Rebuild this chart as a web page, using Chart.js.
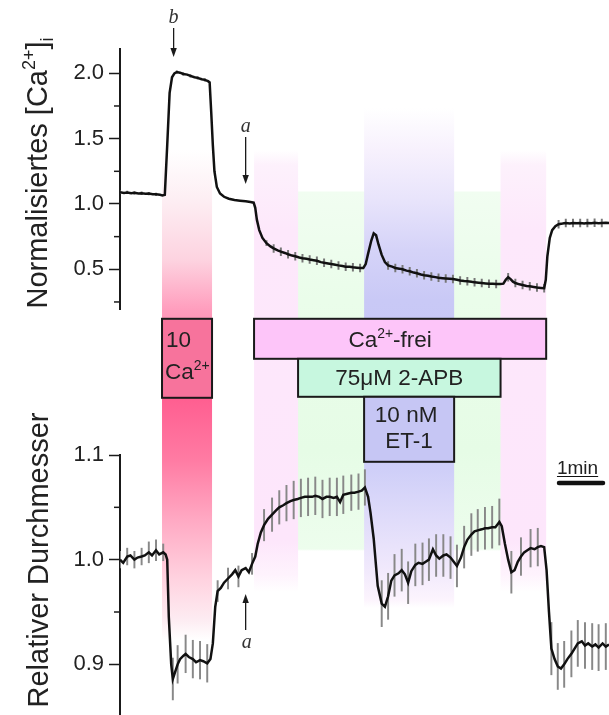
<!DOCTYPE html>
<html lang="de">
<head>
<meta charset="UTF-8">
<title>Ca2+ und Gefäßdurchmesser</title>
<style>
  html, body { margin: 0; padding: 0; background: #fff; }
  #trace { display: block; }
</style>
</head>
<body>
<canvas id="trace" width="609" height="715"></canvas>

<script src="https://cdn.jsdelivr.net/npm/chart.js@4.4.0/dist/chart.umd.min.js"></script>
<script>
// time in seconds, [Ca2+]i normalised, error (half bar)
var caTrace = [
  [0,1.09,0.01],[5,1.085,0],[9,1.088,0.01],[14,1.083,0],[18,1.085,0.01],[23,1.08,0],[27,1.082,0.01],
  [32,1.078,0],[36,1.08,0.01],[41,1.075,0],[45,1.074,0.01],[50,1.07,0],[53,1.066,0],[56,1.07,0],
  [59,1.45,0],[62,1.85,0],[65,1.97,0],[68,2.0,0],[71,2.01,0.01],[75,2.005,0],[79,1.995,0.01],
  [84,1.99,0],[88,1.98,0.01],[93,1.97,0],[97,1.965,0.01],[102,1.955,0],[106,1.95,0.01],[110,1.94,0],
  [112,1.93,0],[114,1.7,0],[116,1.45,0],[118,1.25,0],[121,1.13,0],[125,1.08,0],[130,1.055,0],
  [136,1.04,0],[143,1.03,0],[150,1.025,0],[157,1.02,0],[163,1.015,0],[167,1.01,0],[169,0.97,0],
  [171,0.88,0],[174,0.8,0],[178,0.74,0],[183,0.7,0.02],[188,0.675,0],[192,0.66,0.03],[197,0.645,0],
  [201,0.635,0.03],[206,0.625,0],[210,0.615,0.03],[215,0.605,0],[219,0.6,0.03],[224,0.59,0],
  [228,0.585,0.03],[233,0.58,0],[237,0.575,0.03],[242,0.57,0],[246,0.565,0.03],[251,0.555,0],
  [255,0.55,0.03],[260,0.545,0],[264,0.54,0.03],[269,0.535,0],[273,0.53,0.03],[278,0.525,0],
  [282,0.52,0.03],[287,0.52,0],[291,0.515,0.03],[296,0.512,0],[300,0.51,0.03],[304,0.51,0],
  [307,0.54,0],[310,0.62,0],[314,0.72,0],[317,0.775,0],[320,0.76,0],[323,0.69,0],[327,0.61,0],
  [331,0.555,0],[335,0.53,0.03],[340,0.52,0],[344,0.51,0.03],[349,0.505,0],[353,0.5,0.03],
  [358,0.49,0],[362,0.485,0.03],[367,0.475,0],[371,0.47,0.03],[376,0.46,0],[380,0.455,0.03],
  [385,0.45,0],[389,0.445,0.03],[394,0.44,0],[398,0.435,0.03],[403,0.432,0],[407,0.43,0.03],
  [412,0.428,0],[416,0.425,0.03],[421,0.42,0],[425,0.415,0.03],[430,0.41,0],[434,0.408,0.03],
  [439,0.405,0],[443,0.4,0.03],[448,0.397,0],[452,0.395,0.03],[457,0.392,0],[461,0.39,0.03],
  [466,0.39,0],[470,0.388,0.03],[475,0.387,0],[479,0.39,0],[482,0.42,0],[485,0.44,0.03],
  [488,0.425,0],[491,0.405,0],[494,0.395,0.03],[499,0.385,0],[503,0.38,0.03],[508,0.372,0],
  [512,0.37,0.03],[517,0.365,0],[521,0.36,0.03],[526,0.357,0],[530,0.355,0.03],[532,0.42,0],
  [534,0.6,0],[537,0.74,0],[540,0.8,0],[544,0.83,0],[548,0.845,0.03],[553,0.85,0],[557,0.855,0.03],
  [562,0.85,0],[566,0.855,0.03],[571,0.852,0],[575,0.855,0.03],[580,0.85,0],[584,0.855,0.03],
  [589,0.852,0],[593,0.856,0.03],[598,0.853,0],[602,0.855,0.03],[607,0.856,0],[611,0.855,0]
];

// time in seconds, relative diameter, error (half bar)
var diaTrace = [
  [0,1.0,0.008],[4,0.997,0],[9,1.003,0.008],[13,1.004,0],[18,1.0,0.008],[22,1.002,0],[27,1.003,0.008],
  [31,1.004,0],[36,1.007,0.01],[40,1.004,0],[45,1.009,0.01],[49,1.005,0],[54,1.007,0.008],[57,1.005,0],
  [59,1.0,0],[61,0.945,0],[64,0.9,0],[66,0.886,0.02],[69,0.893,0],[72,0.9,0.018],[75,0.905,0],
  [79,0.908,0],[82,0.91,0.018],[86,0.907,0],[91,0.905,0.018],[95,0.902,0],[100,0.904,0.018],
  [104,0.903,0],[109,0.901,0.018],[113,0.905,0],[116,0.92,0],[119,0.955,0],[122,0.97,0.01],
  [126,0.973,0],[130,0.978,0],[135,0.982,0.01],[140,0.986,0],[144,0.99,0],[148,0.984,0.01],
  [152,0.99,0],[157,0.992,0],[161,0.988,0],[165,0.996,0.01],[169,1.003,0],[172,1.015,0],
  [176,1.026,0],[180,1.033,0.015],[185,1.039,0],[190,1.043,0.016],[195,1.047,0],[199,1.05,0.016],
  [204,1.052,0],[208,1.054,0.017],[213,1.056,0],[217,1.057,0.018],[222,1.058,0],[226,1.059,0.018],
  [231,1.06,0],[235,1.06,0.018],[240,1.06,0],[244,1.061,0.018],[249,1.06,0],[253,1.058,0.018],
  [258,1.06,0],[262,1.06,0.018],[267,1.059,0],[271,1.06,0.018],[275,1.055,0],[279,1.062,0.018],
  [284,1.063,0],[289,1.064,0.017],[293,1.064,0],[298,1.065,0.017],[302,1.066,0],[306,1.069,0.017],
  [310,1.06,0],[313,1.045,0],[317,1.02,0],[322,0.975,0],[327,0.958,0.022],[331,0.955,0],
  [335,0.965,0.022],[339,0.98,0],[343,0.985,0.02],[348,0.987,0],[352,0.99,0.02],[356,0.986,0],
  [360,0.978,0.02],[364,0.989,0],[369,0.995,0.02],[373,0.997,0],[378,0.996,0.02],[382,0.998,0],
  [386,1.0,0.02],[391,1.01,0],[395,1.004,0.02],[399,1.001,0],[404,1.004,0.02],[408,1.005,0],
  [413,1.002,0.02],[417,0.998,0],[421,0.994,0.02],[426,1.002,0],[430,1.012,0.02],[434,1.019,0],
  [439,1.024,0.02],[443,1.027,0],[447,1.028,0.02],[452,1.029,0],[456,1.03,0.02],[460,1.03,0],
  [465,1.031,0.02],[469,1.031,0],[474,1.036,0.022],[477,1.032,0],[481,1.015,0],[485,1.0,0],
  [489,0.988,0.02],[493,0.99,0],[497,0.998,0],[501,1.003,0.018],[505,1.007,0],[509,1.009,0],
  [513,1.011,0.018],[518,1.01,0],[522,1.012,0.018],[526,1.013,0],[530,1.012,0],[533,0.99,0],
  [536,0.95,0],[539,0.915,0.025],[543,0.905,0],[547,0.898,0.022],[551,0.896,0],[555,0.9,0.022],
  [559,0.905,0],[564,0.91,0.022],[568,0.915,0],[572,0.92,0.022],[577,0.922,0],[581,0.918,0.022],
  [585,0.92,0],[590,0.917,0.022],[594,0.919,0],[598,0.916,0.022],[603,0.92,0],[607,0.917,0.022],
  [611,0.919,0]
];

// treatment periods (s)
var caPeriod = [52.5, 115];
var freePeriod = [167.5, 532.5];
var apbPeriod = [222.5, 475.5];
var et1Period = [305, 417.5];

// arrow marks (s) and the 1 min scale bar
var markB = 67;
var markA = 157;
var scaleBar = [546, 606];

// axis ticks
var caTicks = [0.5, 1.0, 1.5, 2.0];
var caMinor = [0.25, 0.75, 1.25, 1.75];
var diaTicks = [0.9, 1.0, 1.1];
var diaMinor = [0.95, 1.05];

var SANS = '"Liberation Sans", Arial, sans-serif';
var SERIF = '"Liberation Serif", "Times New Roman", serif';
var INK = '#1a1a1a';

function lineData(rows) {
  return rows.map(function (r) { return { x: r[0], y: r[1] }; });
}
function errData(rows) {
  return rows.filter(function (r) { return r[2] > 0; })
    .map(function (r) { return { x: r[0], y: [r[1] - r[2], r[1] + r[2]] }; });
}

// text with super/subscripts: parts = [[text, kind], ...]
function drawParts(ctx, parts, x, y, size, align) {
  var widths = parts.map(function (p) {
    ctx.font = (p[1] ? size * 0.62 : size) + 'px ' + SANS;
    return ctx.measureText(p[0]).width;
  });
  var total = widths.reduce(function (a, b) { return a + b; }, 0);
  var cx = align === 'center' ? x - total / 2 : x;
  ctx.textAlign = 'left';
  ctx.textBaseline = 'alphabetic';
  parts.forEach(function (p, i) {
    ctx.font = (p[1] ? size * 0.62 : size) + 'px ' + SANS;
    var dy = p[1] === 'sup' ? -size * 0.4 : p[1] === 'sub' ? size * 0.22 : 0;
    ctx.fillText(p[0], cx, y + dy);
    cx += widths[i];
  });
}

function drawArrow(ctx, x, yFrom, yTo) {
  var dir = yTo > yFrom ? 1 : -1;
  ctx.strokeStyle = INK;
  ctx.fillStyle = INK;
  ctx.lineWidth = 1.3;
  ctx.beginPath();
  ctx.moveTo(x, yFrom);
  ctx.lineTo(x, yTo - dir * 6);
  ctx.stroke();
  ctx.beginPath();
  ctx.moveTo(x, yTo);
  ctx.lineTo(x - 3.2, yTo - dir * 9);
  ctx.lineTo(x + 3.2, yTo - dir * 9);
  ctx.closePath();
  ctx.fill();
}

// shaded treatment columns, gradient stops given in pixel rows
var bandStyles = [
  { period: caPeriod, stops: [[150, '#ffffff'], [200, '#fdeef3'], [260, '#fdd3e0'], [310, '#ff9dbd'],
      [400, '#ff5f91'], [460, '#ff7ba3'], [520, '#ffa9c3'], [580, '#ffd3e0'], [620, '#fdecf2'], [640, '#ffffff']] },
  { period: freePeriod, stops: [[150, '#ffffff'], [165, '#fdf1fc'], [230, '#fde8fb'], [540, '#fde6fb'],
      [575, '#fef3fd'], [592, '#ffffff']] },
  { period: apbPeriod, stops: [[150, '#ffffff'], [191, '#ffffff'], [192, '#f1fdf1'], [300, '#eafdea'],
      [450, '#e6fce6'], [549, '#edfded'], [551, '#ffffff'], [592, '#ffffff']] },
  { period: et1Period, stops: [[108, '#ffffff'], [150, '#f7f1fd'], [200, '#e8e4fb'], [250, '#d5d3f8'],
      [300, '#c9c9f6'], [400, '#c5c5f5'], [470, '#cfcff8'], [520, '#e0dcfa'], [570, '#f1e9fc'],
      [600, '#fcf4fd'], [608, '#ffffff']] }
];

// labelled boxes; rows are offsets (px) below the top panel's axis end
var boxStyles = [
  { period: caPeriod, rows: [9, 88], fill: '#f7739c',
    lines: [{ parts: [['10', '']], dx: 4, y: 347, align: 'left' },
            { parts: [['Ca', ''], ['2+', 'sup']], dx: 3, y: 379, align: 'left' }] },
  { period: freePeriod, rows: [9, 49], fill: '#fdc5f9',
    lines: [{ parts: [['Ca', ''], ['2+', 'sup'], ['-frei', '']], dx: -10, y: 347, align: 'center' }] },
  { period: apbPeriod, rows: [49, 87], fill: '#c7f7df',
    lines: [{ parts: [['75\u03bcM 2-APB', '']], dx: 0, y: 385, align: 'center' }] },
  { period: et1Period, rows: [87, 152], fill: '#c6c6f4',
    lines: [{ parts: [['10 nM', '']], dx: -3, y: 422, align: 'center' },
            { parts: [['ET-1', '']], dx: 0, y: 448, align: 'center' }] }
];

var decor = {
  id: 'decor',
  beforeDatasetsDraw: function (chart) {
    var ctx = chart.ctx, x = chart.scales.x;
    ctx.save();
    bandStyles.forEach(function (b) {
      var x0 = x.getPixelForValue(b.period[0]), x1 = x.getPixelForValue(b.period[1]);
      var top = b.stops[0][0], bottom = b.stops[b.stops.length - 1][0];
      var g = ctx.createLinearGradient(0, top, 0, bottom);
      b.stops.forEach(function (s) { g.addColorStop((s[0] - top) / (bottom - top), s[1]); });
      ctx.fillStyle = g;
      ctx.fillRect(x0, top, x1 - x0, bottom - top);
    });
    ctx.restore();
  },
  afterDatasetsDraw: function (chart) {
    var ctx = chart.ctx, x = chart.scales.x, gap = chart.scales.yGap;
    ctx.save();

    // treatment boxes
    boxStyles.forEach(function (b) {
      var x0 = x.getPixelForValue(b.period[0]), x1 = x.getPixelForValue(b.period[1]);
      var y0 = gap.getPixelForValue(b.rows[0]), y1 = gap.getPixelForValue(b.rows[1]);
      ctx.fillStyle = b.fill;
      ctx.fillRect(x0, y0, x1 - x0, y1 - y0);
      ctx.strokeStyle = INK;
      ctx.lineWidth = 2;
      ctx.strokeRect(x0, y0, x1 - x0, y1 - y0);
      ctx.fillStyle = '#222';
      b.lines.forEach(function (l) {
        var lx = l.align === 'left' ? x0 + l.dx : (x0 + x1) / 2 + l.dx;
        drawParts(ctx, l.parts, lx, l.y, 22.5, l.align);
      });
    });

    // minor ticks
    ctx.strokeStyle = INK;
    ctx.lineWidth = 1.5;
    [['yCa', caMinor], ['yDia', diaMinor]].forEach(function (m) {
      var s = chart.scales[m[0]];
      m[1].forEach(function (v) {
        var py = s.getPixelForValue(v);
        ctx.beginPath();
        ctx.moveTo(s.right - 6, py);
        ctx.lineTo(s.right, py);
        ctx.stroke();
      });
    });

    // axis titles
    ctx.fillStyle = '#222';
    ctx.save();
    ctx.translate(47, 173);
    ctx.rotate(-Math.PI / 2);
    drawParts(ctx, [['Normalisiertes [Ca', ''], ['2+', 'sup'], [']', ''], ['i', 'sub']], 0, 0, 29, 'center');
    ctx.restore();
    ctx.save();
    ctx.translate(48, 560);
    ctx.rotate(-Math.PI / 2);
    drawParts(ctx, [['Relativer Durchmesser', '']], 0, 0, 29, 'center');
    ctx.restore();

    // arrows b / a
    var xb = x.getPixelForValue(markB), xa = x.getPixelForValue(markA);
    drawArrow(ctx, xb, 28, 57);
    drawArrow(ctx, xa, 137, 184);
    drawArrow(ctx, xa, 630, 594);
    ctx.fillStyle = '#333';
    ctx.font = 'italic 20px ' + SERIF;
    ctx.textAlign = 'center';
    ctx.textBaseline = 'alphabetic';
    ctx.fillText('b', xb, 23);
    ctx.fillText('a', xa, 132);
    ctx.fillText('a', xa + 1, 648);

    // 1 min scale bar
    var s0 = x.getPixelForValue(scaleBar[0]), s1 = x.getPixelForValue(scaleBar[1]);
    ctx.strokeStyle = '#111';
    ctx.lineCap = 'round';
    ctx.lineWidth = 4.5;
    ctx.beginPath();
    ctx.moveTo(s0 + 2, 483);
    ctx.lineTo(s1 - 2, 483);
    ctx.stroke();
    ctx.fillStyle = '#222';
    ctx.font = '19px ' + SANS;
    ctx.textAlign = 'left';
    ctx.fillText('1min', s0, 474);
    ctx.lineCap = 'butt';
    ctx.lineWidth = 1;
    ctx.beginPath();
    ctx.moveTo(s0, 476.5);
    ctx.lineTo(s0 + ctx.measureText('1min').width, 476.5);
    ctx.stroke();

    ctx.restore();
  }
};

function panelFit(scale) {
  scale.width = 120;
  scale.paddingTop = 0;
  scale.paddingBottom = 0;
}

function valueAxis(min, max, weight, ticks) {
  return {
    type: 'linear', position: 'left', stack: 'panels', stackWeight: weight,
    min: min, max: max,
    afterBuildTicks: function (s) { s.ticks = ticks.map(function (v) { return { value: v }; }); },
    afterFit: panelFit,
    ticks: {
      color: '#222', padding: 5,
      font: { family: SANS, size: 22 },
      callback: function (v) { return Number(v).toFixed(1); }
    },
    grid: { drawOnChartArea: false, tickLength: 11, tickWidth: 1.5, tickColor: INK },
    border: { color: INK, width: 2 }
  };
}

var ctx = document.getElementById('trace').getContext('2d');
new Chart(ctx, {
  type: 'line',
  data: {
    datasets: [
      { data: lineData(caTrace), yAxisID: 'yCa', borderColor: '#111', borderWidth: 2.5,
        pointRadius: 0, tension: 0, order: 0 },
      { type: 'bar', data: errData(caTrace), yAxisID: 'yCa', backgroundColor: '#777',
        barThickness: 1.3, grouped: false, order: 1 },
      { data: lineData(diaTrace), yAxisID: 'yDia', borderColor: '#111', borderWidth: 2.5,
        pointRadius: 0, tension: 0, order: 0 },
      { type: 'bar', data: errData(diaTrace), yAxisID: 'yDia', backgroundColor: '#888',
        barThickness: 1.3, grouped: false, order: 1 }
    ]
  },
  options: {
    responsive: false,
    animation: false,
    events: [],
    layout: { padding: { top: 48.5, left: 0, right: 0, bottom: 0 } },
    plugins: { legend: { display: false }, tooltip: { enabled: false } },
    scales: {
      x: { type: 'linear', display: false, min: 0, max: 611, offset: false },
      // left stack is laid out last-declared first: diameter panel at the bottom
      yDia: valueAxis(0.8516, 1.1, 260, diaTicks),
      yGap: {
        type: 'linear', position: 'left', stack: 'panels', stackWeight: 145.2,
        min: 0, max: 145.2, reverse: true, afterFit: panelFit,
        ticks: { display: false }, grid: { display: false }, border: { display: false }
      },
      yCa: valueAxis(0.19, 2.19, 261.3, caTicks)
    }
  },
  plugins: [decor]
});
</script>
</body>
</html>
